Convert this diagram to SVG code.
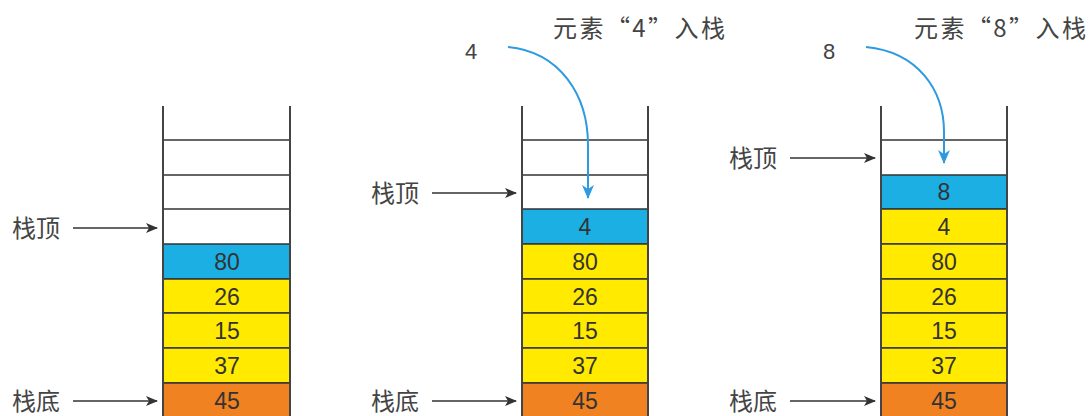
<svg xmlns="http://www.w3.org/2000/svg" width="1092" height="416" viewBox="0 0 1092 416">
<style>
.lbl{font-family:"Noto Sans CJK SC","Liberation Sans",sans-serif;font-size:24px;fill:#444}
.dig{font-family:"Liberation Sans","Noto Sans CJK SC",sans-serif;font-size:22px;fill:#444}
.num{font-family:"Liberation Sans","Noto Sans CJK SC",sans-serif;font-size:23px;fill:#333;text-anchor:middle}
.wall{stroke:#444;stroke-width:2;fill:none}
.cell{stroke:#333;stroke-width:1.5}
.b{fill:#1CAFE3}.y{fill:#FFEA00}.o{fill:#F18222}.w{fill:#fff}
.ptr{stroke:#333;stroke-width:1.5;fill:none;marker-end:url(#ka)}
.push{stroke:#2E9BE0;stroke-width:2;fill:none;marker-end:url(#ba)}
</style>
<defs>
<marker id="ka" markerWidth="12" markerHeight="10" refX="11" refY="5" orient="auto" markerUnits="userSpaceOnUse"><path d="M0,0 L12,5 L0,10 L3,5 Z" fill="#333"/></marker>
<marker id="ba" markerWidth="12" markerHeight="14" refX="6" refY="13" orient="0" markerUnits="userSpaceOnUse"><path d="M0,0 L6,4 L12,0 L6,14 Z" fill="#2E9BE0"/></marker>
</defs>
<rect width="1092" height="416" fill="#fff"/>
<g id="stack1">
<rect class="cell b" x="163" y="244" width="127" height="35"/>
<rect class="cell y" x="163" y="279" width="127" height="34"/>
<rect class="cell y" x="163" y="313" width="127" height="35"/>
<rect class="cell y" x="163" y="348" width="127" height="35"/>
<rect class="cell o" x="163" y="383" width="127" height="35"/>
<line class="cell" x1="163" y1="140" x2="290" y2="140"/>
<line class="cell" x1="163" y1="175" x2="290" y2="175"/>
<line class="cell" x1="163" y1="209" x2="290" y2="209"/>
<line class="wall" x1="163" y1="106" x2="163" y2="416"/>
<line class="wall" x1="290" y1="106" x2="290" y2="416"/>
<text class="num" x="227" y="270">80</text>
<text class="num" x="227" y="305">26</text>
<text class="num" x="227" y="339">15</text>
<text class="num" x="227" y="374">37</text>
<text class="num" x="227" y="409">45</text>
</g>
<g id="stack2">
<rect class="cell b" x="522" y="209" width="126" height="35"/>
<rect class="cell y" x="522" y="244" width="126" height="35"/>
<rect class="cell y" x="522" y="279" width="126" height="34"/>
<rect class="cell y" x="522" y="313" width="126" height="35"/>
<rect class="cell y" x="522" y="348" width="126" height="35"/>
<rect class="cell o" x="522" y="383" width="126" height="35"/>
<line class="cell" x1="522" y1="140" x2="648" y2="140"/>
<line class="cell" x1="522" y1="175" x2="648" y2="175"/>
<line class="wall" x1="522" y1="106" x2="522" y2="416"/>
<line class="wall" x1="648" y1="106" x2="648" y2="416"/>
<text class="num" x="585" y="235">4</text>
<text class="num" x="585" y="270">80</text>
<text class="num" x="585" y="305">26</text>
<text class="num" x="585" y="339">15</text>
<text class="num" x="585" y="374">37</text>
<text class="num" x="585" y="409">45</text>
</g>
<g id="stack3">
<rect class="cell b" x="881" y="175" width="126" height="34"/>
<rect class="cell y" x="881" y="209" width="126" height="35"/>
<rect class="cell y" x="881" y="244" width="126" height="35"/>
<rect class="cell y" x="881" y="279" width="126" height="34"/>
<rect class="cell y" x="881" y="313" width="126" height="35"/>
<rect class="cell y" x="881" y="348" width="126" height="35"/>
<rect class="cell o" x="881" y="383" width="126" height="35"/>
<line class="cell" x1="881" y1="140" x2="1007" y2="140"/>
<line class="wall" x1="881" y1="106" x2="881" y2="416"/>
<line class="wall" x1="1007" y1="106" x2="1007" y2="416"/>
<text class="num" x="944" y="200">8</text>
<text class="num" x="944" y="235">4</text>
<text class="num" x="944" y="270">80</text>
<text class="num" x="944" y="305">26</text>
<text class="num" x="944" y="339">15</text>
<text class="num" x="944" y="374">37</text>
<text class="num" x="944" y="409">45</text>
</g>
<g id="labels">
<text class="lbl" x="12" y="237">栈顶</text>
<text class="lbl" x="12" y="410">栈底</text>
<text class="lbl" x="371" y="202">栈顶</text>
<text class="lbl" x="371" y="410">栈底</text>
<text class="lbl" x="729" y="167">栈顶</text>
<text class="lbl" x="729" y="410">栈底</text>
<text class="lbl" x="553" y="37" textLength="172" lengthAdjust="spacing">元素“4”入栈</text>
<text class="lbl" x="914" y="37" textLength="172" lengthAdjust="spacing">元素“8”入栈</text>
<text class="dig" x="465" y="59">4</text>
<text class="dig" x="823" y="59">8</text>
</g>
<g id="connectors">
<line class="ptr" x1="73" y1="228" x2="157" y2="228"/>
<line class="ptr" x1="73" y1="401" x2="157" y2="401"/>
<line class="ptr" x1="432" y1="193" x2="516" y2="193"/>
<line class="ptr" x1="432" y1="401" x2="516" y2="401"/>
<line class="ptr" x1="790" y1="158" x2="875" y2="158"/>
<line class="ptr" x1="790" y1="401" x2="875" y2="401"/>
<path class="push" d="M508,47 C560,52 588,95 588,145 L588,198"/>
<path class="push" d="M866,47 C918,52 944,90 944,132 L944,163"/>
</g>
</svg>
